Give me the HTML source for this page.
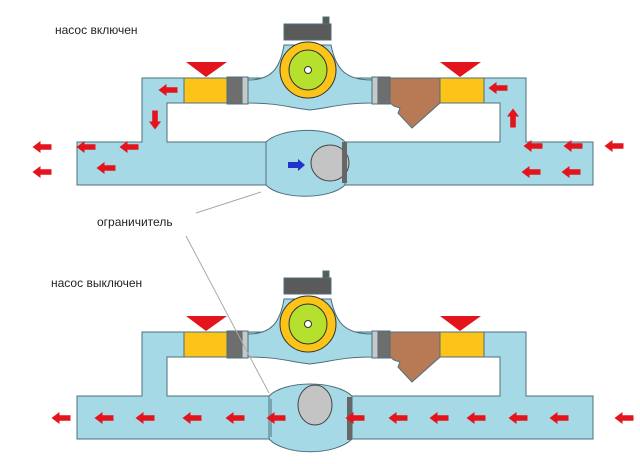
<!DOCTYPE html>
<html><head><meta charset="utf-8"><style>body{margin:0;background:#fff}svg{display:block}</style></head><body>
<svg width="640" height="464" viewBox="0 0 640 464" xmlns="http://www.w3.org/2000/svg">
<defs>
<path id="al" d="M-9.5,0 L-1.5,-6 L-1.5,-2.8 L9.5,-2.8 L9.5,2.8 L-1.5,2.8 L-1.5,6 Z" fill="#e3141c"/>
<g id="base" stroke="#4d6f7c" stroke-width="1">
<path d="M142,78 H526 V142 H593 V185 H77 V142 H142 Z" fill="#a5d9e6"/>
<rect x="167" y="103" width="333" height="39" fill="#fff"/>
<path d="M248,80 C270,80 280,70 284,45 L331,45 C336,70 346,80 372,80 L372,103 C340,103 330,108 310,110 C290,108 280,103 248,103 Z" fill="#a5d9e6"/>
<rect x="184" y="78" width="43" height="25" fill="#fcc419"/>
<rect x="227" y="77" width="21" height="27" fill="#6e6e6e"/>
<rect x="242" y="77" width="6" height="27" fill="#c8c8c8"/>
<rect x="372" y="77" width="18" height="27" fill="#6e6e6e"/>
<rect x="372" y="77" width="6" height="27" fill="#c8c8c8"/>
<path d="M390,78 H440 V103 L412,128 L398,113 L400,108 L394,106 L390,103 Z" fill="#b87a55"/>
<rect x="440" y="78" width="44" height="25" fill="#fcc419"/>
<path d="M186,62 H227 L206,77 Z" fill="#e3141c" stroke="none"/>
<path d="M440,62 H481 L460,77 Z" fill="#e3141c" stroke="none"/>
<rect x="284" y="24" width="47" height="16" fill="#5a5a5a"/>
<rect x="323" y="17" width="6" height="7" fill="#5a5a5a"/>
<ellipse cx="308" cy="70" rx="28" ry="28" fill="#fcc419" stroke="#333"/>
<ellipse cx="308" cy="70" rx="19" ry="20" fill="#b5e02e" stroke="#333"/>
<circle cx="308" cy="70" r="3.5" fill="#fff" stroke="#333"/>
</g>
</defs>
<use href="#base"/>
<path d="M266,142 C280,128 330,125 345,142 V185 C330,200 280,200 266,185 Z" fill="#a5d9e6" stroke="#4d6f7c"/>
<line x1="266" y1="145" x2="266" y2="183" stroke="#4d6f7c"/>
<ellipse cx="330" cy="163" rx="19" ry="18" fill="#c4c4c4" stroke="#444"/>
<rect x="342" y="142" width="5" height="41" fill="#666"/>
<path d="M305,165 L298,159 L298,162 L288,162 L288,168 L298,168 L298,171 Z" fill="#2233cc"/>
<g>
<use href="#al" x="42" y="147"/><use href="#al" x="42" y="172"/><use href="#al" x="86" y="147"/><use href="#al" x="129" y="147"/><use href="#al" x="106" y="168"/><use href="#al" x="168" y="90"/>
<use href="#al" transform="translate(155,120) rotate(-90)"/>
<use href="#al" x="498" y="88"/>
<use href="#al" transform="translate(513,118) rotate(90)"/>
<use href="#al" x="533" y="146"/><use href="#al" x="573" y="146"/><use href="#al" x="614" y="146"/><use href="#al" x="531" y="172"/><use href="#al" x="571" y="172"/>
</g>
<use href="#base" y="254"/>
<path d="M269,396 C285,380 335,380 352,396 V439 C335,456 285,456 269,439 Z" fill="#a5d9e6" stroke="#4d6f7c"/>
<line x1="271" y1="399" x2="271" y2="437" stroke="#4d6f7c"/>
<ellipse cx="315" cy="405" rx="17" ry="20" fill="#c4c4c4" stroke="#444"/>
<rect x="347" y="397" width="5" height="43" fill="#666"/>
<g>
<use href="#al" x="61" y="418"/><use href="#al" x="104" y="418"/><use href="#al" x="145" y="418"/><use href="#al" x="192" y="418"/><use href="#al" x="235" y="418"/><use href="#al" x="276" y="418"/><use href="#al" x="355" y="418"/><use href="#al" x="398" y="418"/><use href="#al" x="439" y="418"/><use href="#al" x="476" y="418"/><use href="#al" x="518" y="418"/><use href="#al" x="559" y="418"/><use href="#al" x="624" y="418"/>
</g>
<line x1="261" y1="192" x2="196" y2="213" stroke="#aaa"/>
<line x1="186" y1="236" x2="269" y2="393" stroke="#aaa"/>
<g font-family="Liberation Sans, sans-serif" font-size="12" fill="#222">
<text x="55" y="34">насос включен</text>
<text x="97" y="226">ограничитель</text>
<text x="51" y="287">насос выключен</text>
</g>
</svg>
</body></html>
